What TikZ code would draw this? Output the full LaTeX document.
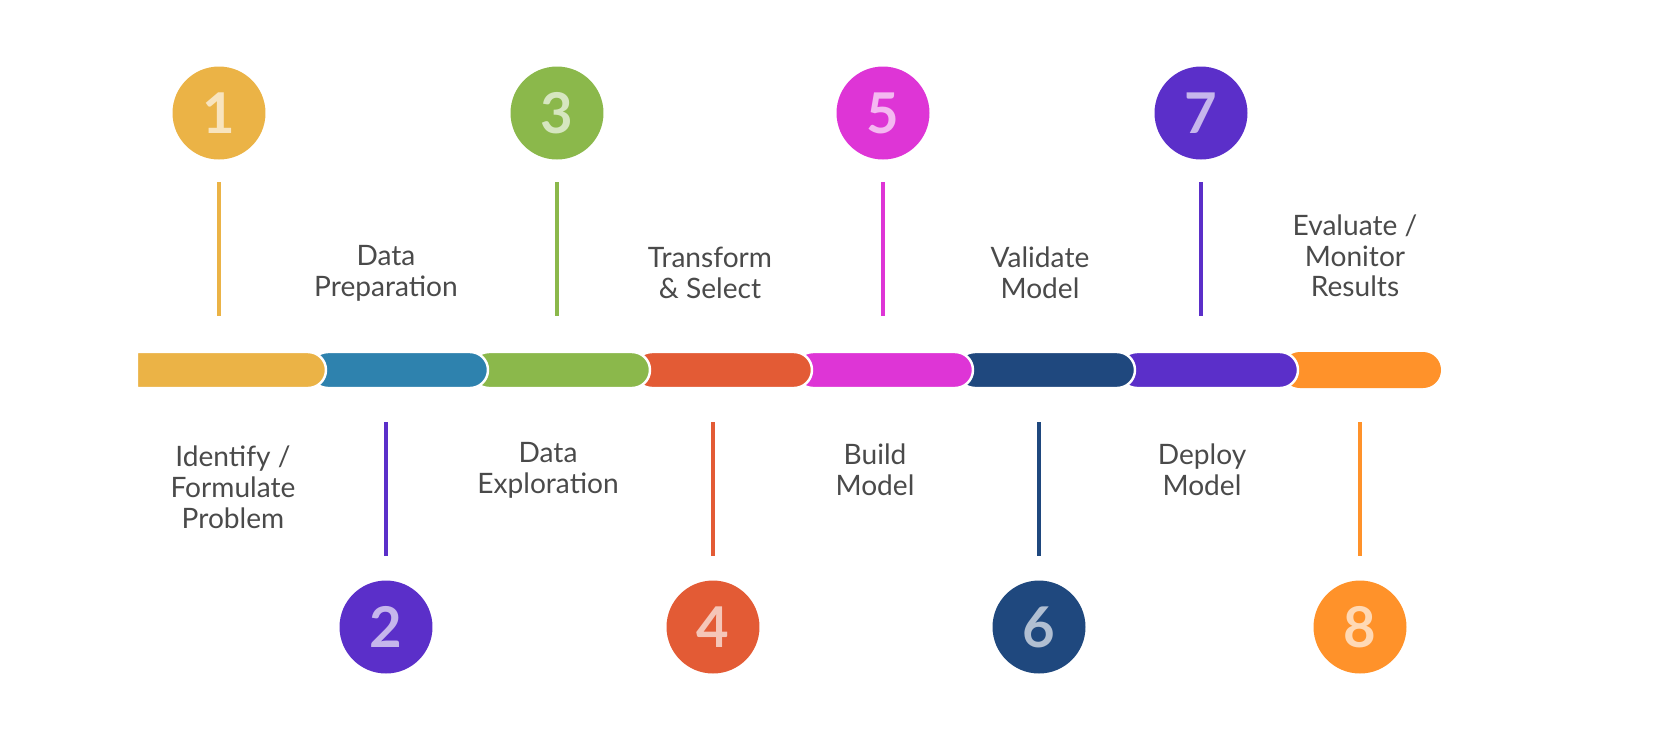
\documentclass[tikz,border=0pt]{standalone}
\usepackage{fontspec}
\setmainfont{Lato}
\definecolor{cA}{HTML}{EBB346}
\definecolor{cB}{HTML}{5B2FC9}
\definecolor{cC}{HTML}{8BB84B}
\definecolor{cD}{HTML}{E35B35}
\definecolor{cE}{HTML}{DE35D6}
\definecolor{cF}{HTML}{1F487E}
\definecolor{cG}{HTML}{5B2FC9}
\definecolor{cH}{HTML}{FF922A}
\definecolor{teal2}{HTML}{2E82AE}
\definecolor{txt}{HTML}{4A4A4A}
\tikzset{
  stepnum/.style={circle, minimum size=1.86cm, inner sep=0pt, font=\fontsize{32}{32}\selectfont\bfseries},
  steplabel/.style={align=center, text=txt, font=\fontsize{16}{17.5}\selectfont},
  seg/.style={rounded corners=0.36cm, draw=white, line width=1.4pt}
}
\begin{document}
\begin{tikzpicture}[x=0.02cm,y=-0.02cm]
\useasboundingbox (0,0) rectangle (1657,752);
% bar, drawn right to left so each end overlaps the next piece
\fill[cH, rounded corners=0.36cm] (1282,352) rectangle (1441,388);
\foreach \a/\b/\c in {1119/1298/cG, 957/1135/cF, 795/973/cE, 634/812/cD, 471/650/cC, 310/488/teal2}
  \filldraw[seg, fill=\c] (\a,352) rectangle (\b,388);
\filldraw[seg, fill=cA] (137,352) -- (200,352) [rounded corners=0.36cm] -- (326,352) -- (326,388) [sharp corners] -- (137,388) -- cycle;
% steps above the bar
\foreach \i/\x/\c in {1/219/cA, 3/557/cC, 5/883/cE, 7/1201/cG} {
  \node[stepnum, fill=\c, text=\c!35!white] (n\i) at (\x,113) {\i};
  \coordinate (t\i) at (\x,182);
  \coordinate (b\i) at (\x,316);
  \draw[\c, line width=2.2pt] (t\i) -- (b\i);
}
% steps below the bar
\foreach \i/\x/\c in {2/386/cB, 4/713/cD, 6/1039/cF, 8/1360/cH} {
  \node[stepnum, fill=\c, text=\c!35!white] (n\i) at (\x,627) {\i};
  \coordinate (t\i) at (\x,422);
  \coordinate (b\i) at (\x,556);
  \draw[\c, line width=2.2pt] (t\i) -- (b\i);
}
\node[steplabel] (l1) at (233,487) {Identify /\\Formulate\\Problem};
\node[steplabel] (l2) at (386,273) {Data\\Preparation};
\node[steplabel] (l3) at (548,470) {Data\\Exploration};
\node[steplabel] (l4) at (710,273) {Transform\\\& Select};
\node[steplabel] (l5) at (875,470) {Build\\Model};
\node[steplabel] (l6) at (1040,273) {Validate\\Model};
\node[steplabel] (l7) at (1202,470) {Deploy\\Model};
\node[steplabel] (l8) at (1355,256) {Evaluate /\\Monitor\\Results};
\end{tikzpicture}
\end{document}
